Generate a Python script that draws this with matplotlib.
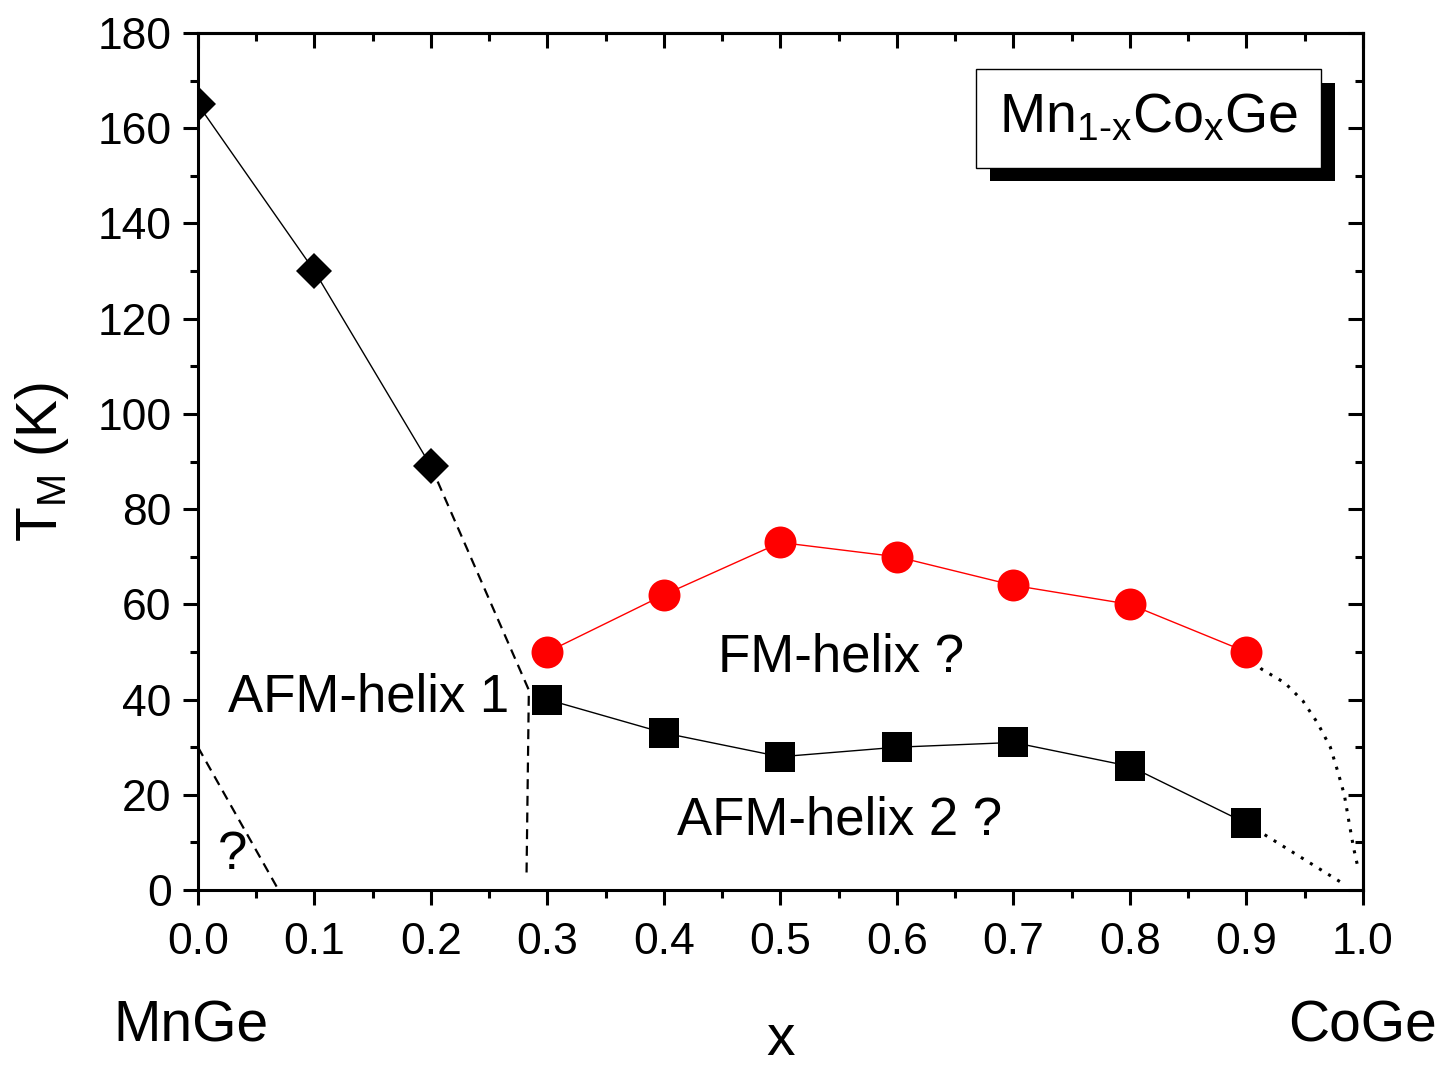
import matplotlib
matplotlib.use('Agg')
import matplotlib.pyplot as plt
import matplotlib.transforms as mtransforms
import matplotlib.patheffects as pe
from matplotlib.ticker import MultipleLocator, NullFormatter

plt.rcParams['font.family'] = 'Liberation Sans'
plt.rcParams['mathtext.fontset'] = 'custom'
plt.rcParams['mathtext.rm'] = 'Liberation Sans'
plt.rcParams['mathtext.it'] = 'Liberation Sans'
plt.rcParams['mathtext.default'] = 'regular'

# measured points
x_afm1 = [0.0, 0.1, 0.2]
t_afm1 = [165, 130, 89]

x_fm = [0.3, 0.4, 0.5, 0.6, 0.7, 0.8, 0.9]
t_fm = [50, 62, 73, 70, 64, 60, 50]

x_afm2 = [0.3, 0.4, 0.5, 0.6, 0.7, 0.8, 0.9]
t_afm2 = [40, 33, 28, 30, 31, 26, 14]

# guide lines (phase boundaries drawn by hand)
x_dash1 = [0.2, 0.284, 0.282]
t_dash1 = [89, 42, 3]
x_dash0 = [0.0, 0.068]
t_dash0 = [30, 0.5]
x_dot_fm = [0.9, 0.913, 0.933, 0.9485, 0.961, 0.972, 0.9785, 0.984, 0.988, 0.992, 0.995]
t_dot_fm = [50, 46.4, 43.5, 39.7, 35.1, 30.0, 24.8, 20.0, 14.3, 8.8, 5.5]
x_dot_afm2 = [0.9, 0.982]
t_dot_afm2 = [14, 1.5]

fig = plt.figure(figsize=(14.4, 10.69), dpi=100)
ax = fig.add_axes([0.1375, 0.1674, 0.809, 0.8017])

dash = (0, (4.5, 3))
dot = (0, (1, 2.5))
ax.plot(x_dash1, t_dash1, color='black', lw=1.6, ls=dash)
ax.plot(x_dash0, t_dash0, color='black', lw=1.6, ls=dash)
ax.plot(x_dot_fm, t_dot_fm, color='black', lw=2.2, ls=dot)
ax.plot(x_dot_afm2, t_dot_afm2, color='black', lw=2.2, ls=dot)

ax.plot(x_afm1, t_afm1, color='black', lw=1, marker='D', ms=18, mew=0, zorder=3)
ax.plot(x_fm, t_fm, color='red', lw=1, marker='o', ms=23, mew=0, zorder=3)
ax.plot(x_afm2, t_afm2, color='black', lw=1, marker='s', ms=21.5, mew=0, zorder=3)

ax.set_xlim(0, 1.0)
ax.set_ylim(0, 180)
ax.xaxis.set_major_locator(MultipleLocator(0.1))
ax.xaxis.set_minor_locator(MultipleLocator(0.05))
ax.yaxis.set_major_locator(MultipleLocator(20))
ax.yaxis.set_minor_locator(MultipleLocator(10))
ax.xaxis.set_major_formatter(plt.FuncFormatter(lambda v, p: '%.1f' % v))

ax.tick_params(which='both', direction='out', width=2.2, labelsize=32, top=False, right=False)
ax.tick_params(which='major', length=11, pad=8)
ax.tick_params(which='minor', length=5.5)
ax.tick_params(axis='x', which='major', pad=12)
for s in ax.spines.values():
    s.set_linewidth(2.2)

secx = ax.secondary_xaxis('top')
secx.xaxis.set_major_locator(MultipleLocator(0.1))
secx.xaxis.set_minor_locator(MultipleLocator(0.05))
secx.xaxis.set_major_formatter(NullFormatter())
secx.tick_params(which='both', direction='in', width=2.2)
secx.tick_params(which='major', length=11)
secx.tick_params(which='minor', length=5.5)
secx.spines['top'].set_linewidth(2.2)

secy = ax.secondary_yaxis('right')
secy.yaxis.set_major_locator(MultipleLocator(20))
secy.yaxis.set_minor_locator(MultipleLocator(10))
secy.yaxis.set_major_formatter(NullFormatter())
secy.tick_params(which='both', direction='in', width=2.2)
secy.tick_params(which='major', length=11)
secy.tick_params(which='minor', length=5.5)
secy.spines['right'].set_linewidth(2.2)

ax.set_ylabel(r'$T_M$ (K)', fontsize=41, labelpad=19)
ax.set_xlabel('x', fontsize=41, labelpad=36)

bl = mtransforms.blended_transform_factory(ax.transData, ax.transAxes)
ax.text(-0.006, -0.177, 'MnGe', transform=bl, ha='center', va='baseline', fontsize=41)
ax.text(1.0, -0.177, 'CoGe', transform=bl, ha='center', va='baseline', fontsize=41)

ax.text(0.026, 40.5, 'AFM-helix 1', ha='left', va='center', fontsize=38)
ax.text(0.446, 48.9, 'FM-helix ?', ha='left', va='center', fontsize=38)
ax.text(0.411, 14.7, 'AFM-helix 2 ?', ha='left', va='center', fontsize=38)
ax.text(0.017, 7.4, '?', ha='left', va='center', fontsize=38)

title = r'Mn$_{1\text{-}x}$Co$_x$Ge'
t = ax.text(0.816, 0.9, title, transform=ax.transAxes, ha='center', va='center', fontsize=40,
            zorder=5, bbox=dict(boxstyle='square,pad=0.42', fc='white', ec='black', lw=1))
t.get_bbox_patch().set_path_effects([
    pe.SimplePatchShadow(offset=(10, -9.5), shadow_rgbFace='black', alpha=1.0),
    pe.Normal()])

fig.savefig('out.png', dpi=100)
